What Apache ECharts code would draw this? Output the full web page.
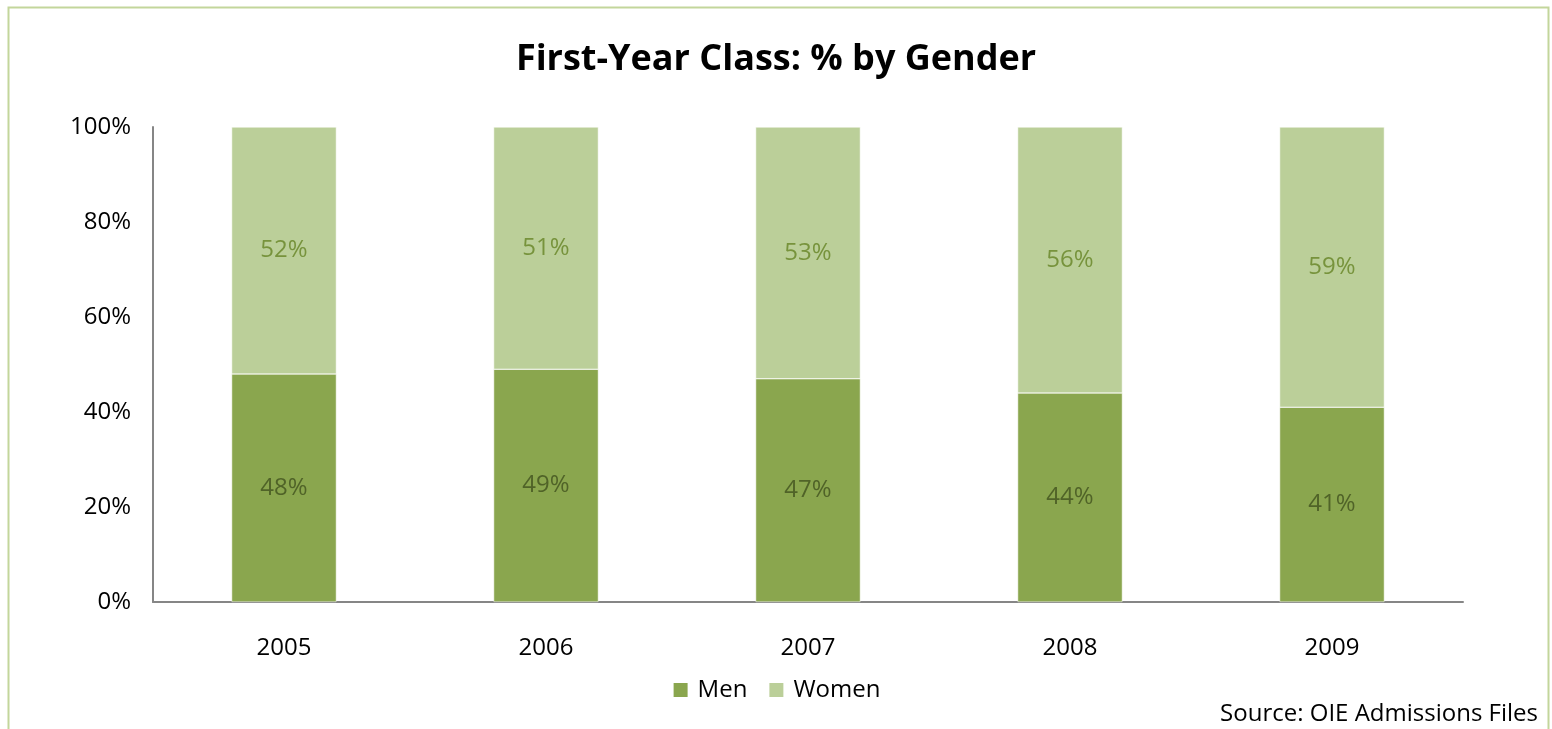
<!DOCTYPE html>
<html>
<head>
<meta charset="utf-8">
<script src="https://cdn.jsdelivr.net/npm/echarts@6/dist/echarts.min.js"></script>
<style>
  html, body { margin: 0; padding: 0; background: #fff; }
  #chart { width: 1552px; height: 729px; }
</style>
</head>
<body>
<div id="chart"></div>
<script>
// values
const years = ['2005', '2006', '2007', '2008', '2009']
const men = [48, 49, 47, 44, 41]
const women = [52, 51, 53, 56, 59]
const yTicks = [0, 20, 40, 60, 80, 100]

const font = '"Open Sans", "Noto Sans", sans-serif'

const chart = echarts.init(document.getElementById('chart'))

const options = {
  backgroundColor: '#fff',
  animation: false,
  title: {
    text: 'First-Year Class: % by Gender',
    left: 'center',
    top: 37,
    textStyle: { fontFamily: font, fontSize: 36, fontWeight: 'bold', color: '#000' }
  },
  legend: {
    bottom: 22,
    left: 'center',
    itemWidth: 16,
    itemHeight: 16,
    itemGap: 20,
    icon: 'rect',
    textStyle: { fontFamily: font, fontSize: 24, color: '#000', padding: [0, 0, 0, 4] },
    data: ['Men', 'Women']
  },
  grid: { left: 153, right: 89, top: 127, bottom: 127 },
  xAxis: {
    type: 'category',
    data: years,
    axisLine: { lineStyle: { color: '#868686', width: 2 } },
    axisTick: { show: false },
    axisLabel: { fontFamily: font, fontSize: 24, color: '#000', margin: 34 }
  },
  yAxis: {
    type: 'value',
    min: yTicks[0],
    max: yTicks[yTicks.length - 1],
    interval: 20,
    axisLine: { show: true, lineStyle: { color: '#868686', width: 2 } },
    axisTick: { show: false },
    splitLine: { show: false },
    axisLabel: { fontFamily: font, fontSize: 24, color: '#000', margin: 22, formatter: '{value}%' }
  },
  series: [{
    name: 'Men',
    type: 'bar',
    stack: 'g',
    barWidth: '40%',
    data: men,
    itemStyle: { color: '#8aa64e', borderColor: '#fff', borderWidth: 0.5 },
    label: { show: true, position: 'inside', formatter: '{c}%', fontFamily: font, fontSize: 24, color: '#506328' }
  }, {
    name: 'Women',
    type: 'bar',
    stack: 'g',
    data: women,
    itemStyle: { color: '#bbcf99', borderColor: '#fff', borderWidth: 0.5 },
    label: { show: true, position: 'inside', formatter: '{c}%', fontFamily: font, fontSize: 24, color: '#77933c' }
  }],
  graphic: [{
    type: 'rect',
    shape: { x: 8.5, y: 7.5, width: 1540, height: 740 },
    style: { fill: 'none', stroke: '#c3d69b', lineWidth: 2 },
    silent: true
  }, {
    type: 'text',
    right: 14,
    top: 702,
    style: { text: 'Source: OIE Admissions Files', fontFamily: font, fontSize: 24, fill: '#000' }
  }]
}

chart.setOption(options)
</script>
</body>
</html>
